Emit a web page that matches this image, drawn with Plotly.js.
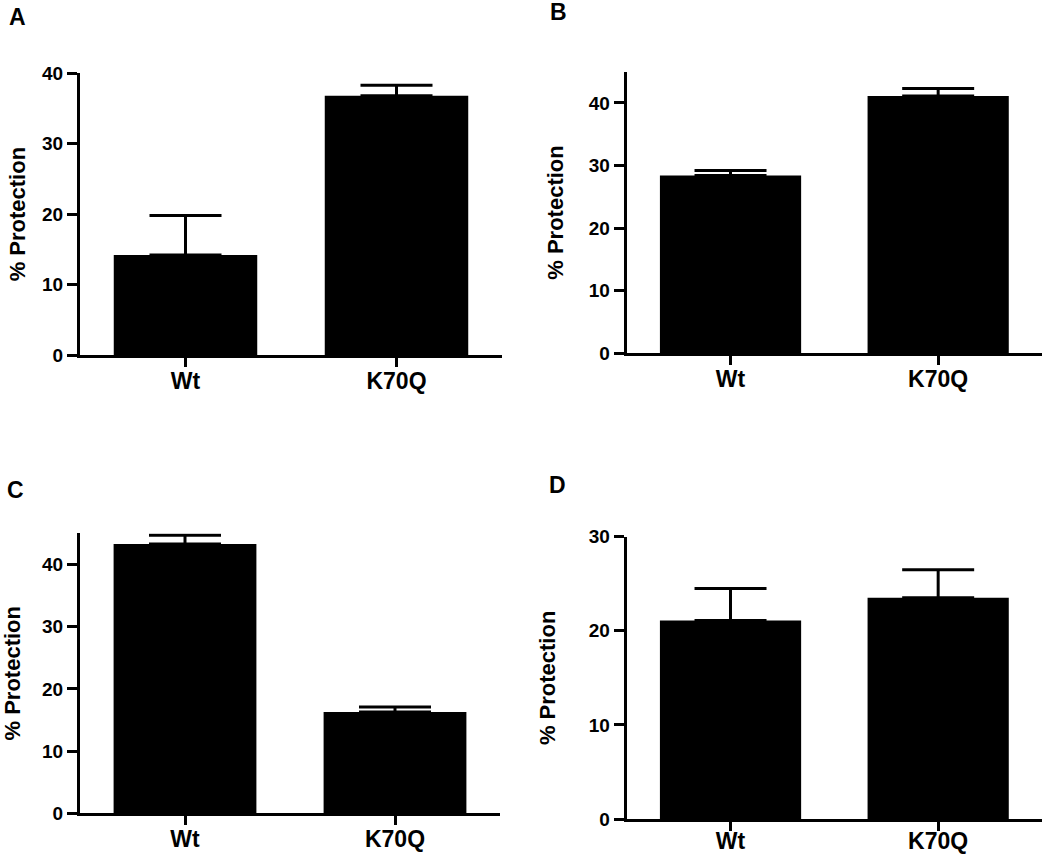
<!DOCTYPE html>
<html>
<head>
<meta charset="utf-8">
<script src="https://cdn.plot.ly/plotly-3.0.1.min.js"></script>
<style>html,body{margin:0;padding:0;background:#fff;}#chart{width:1050px;height:854px;}</style>
</head>
<body>
<div id="chart"></div>
<script>
// Data
const categories = ['Wt', 'K70Q'];
const panelLetters = ['A', 'B', 'C', 'D'];
const yTitle = '% Protection';
const valuesA = [14.2, 36.8];
const errorsA = [5.6, 1.5];
const valuesB = [28.4, 41.1];
const errorsB = [0.8, 1.2];
const valuesC = [43.3, 16.3];
const errorsC = [1.4, 0.8];
const valuesD = [21.1, 23.5];
const errorsD = [3.4, 3.0];
const yMaxA = 40, yMaxB = 45, yMaxC = 45, yMaxD = 30;

const W = 1050, H = 854;
const FONT = 'Liberation Sans, Arial, Helvetica, sans-serif';

function bar(vals, errs, xa, ya) {
  return {
    type: 'bar', x: categories, y: vals, xaxis: xa, yaxis: ya,
    width: 0.68,
    marker: {color: '#000', line: {width: 0}},
    error_y: {type: 'data', symmetric: false, array: errs, arrayminus: errs.map(() => 0),
              color: '#000', thickness: 3, width: 36},
    showlegend: false, hoverinfo: 'x+y'
  };
}

const data = [
  bar(valuesA, errorsA, 'x', 'y'),
  bar(valuesB, errorsB, 'x2', 'y2'),
  bar(valuesC, errorsC, 'x3', 'y3'),
  bar(valuesD, errorsD, 'x4', 'y4')
];

function xax(x0, x1, anchor, standoff) {
  return {
    domain: [x0 / W, x1 / W], anchor: anchor, type: 'category', range: [-0.5, 1.5],
    showline: true, linewidth: 3, linecolor: '#000', showgrid: false, zeroline: false,
    ticks: 'outside', ticklen: 9, tickwidth: 3, tickcolor: '#000',
    ticklabelstandoff: standoff,
    tickfont: {family: FONT, size: 23, color: '#000', weight: 'bold'}, fixedrange: true
  };
}
function yax(yBottom, yTop, anchor, ymax, standoff) {
  return {
    domain: [1 - yBottom / H, 1 - yTop / H], anchor: anchor, range: [0, ymax],
    tickvals: [0, 10, 20, 30, 40].filter(v => v <= ymax),
    showline: true, linewidth: 3, linecolor: '#000', showgrid: false, zeroline: false,
    ticks: 'outside', ticklen: 10, tickwidth: 3, tickcolor: '#000',
    tickfont: {family: FONT, size: 19, color: '#000', weight: 'bold'},
    title: {text: yTitle, standoff: standoff, font: {family: FONT, size: 22, color: '#000', weight: 'bold'}},
    fixedrange: true
  };
}

const letterPos = [[17, 17], [558, 12], [15, 490], [557, 485]];

const layout = {
  width: W, height: H,
  margin: {l: 0, r: 0, t: 0, b: 0},
  paper_bgcolor: '#fff', plot_bgcolor: 'rgba(0,0,0,0)',
  bargap: 0.32,
  xaxis: xax(80, 502, 'y', -6),
  yaxis: yax(355, 73.3, 'x', yMaxA, 11),
  xaxis2: xax(626.7, 1042, 'y2', -6),
  yaxis2: yax(353.3, 71.7, 'x2', yMaxB, 20),
  xaxis3: xax(80, 500, 'y3', -6),
  yaxis3: yax(813.3, 533.3, 'x3', yMaxC, 25),
  xaxis4: xax(626.7, 1042, 'y4', -10),
  yaxis4: yax(819, 536.7, 'x4', yMaxD, 28),
  annotations: panelLetters.map((t, i) => ({
    text: t, xref: 'paper', yref: 'paper',
    x: letterPos[i][0] / W, y: 1 - letterPos[i][1] / H,
    xanchor: 'center', yanchor: 'middle', showarrow: false,
    font: {family: FONT, size: 23, color: '#000', weight: 'bold'}
  }))
};

Plotly.newPlot('chart', data, layout, {displayModeBar: false, staticPlot: true});
</script>
</body>
</html>
